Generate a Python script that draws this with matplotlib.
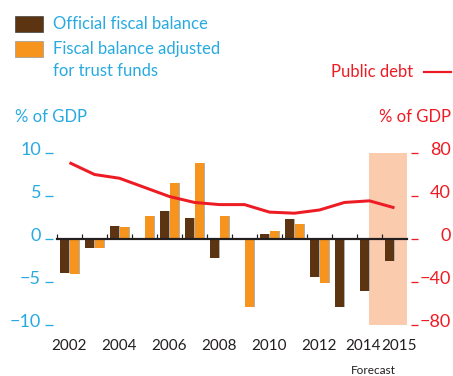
import matplotlib.pyplot as plt
import matplotlib.transforms as mtransforms
from matplotlib.patches import Rectangle
from matplotlib.lines import Line2D
import numpy as np

plt.rcParams['font.family'] = ['Lato', 'DejaVu Sans']

# Daten
years = [2002, 2003, 2004, 2005, 2006, 2007, 2008, 2009, 2010, 2011, 2012, 2013, 2014, 2015]
official = [-3.9, -1.0, 1.5, 0.1, 3.2, 2.4, -2.2, -0.05, 0.6, 2.3, -4.4, -7.9, -6.0, -2.5]
adjusted = [-4.1, -1.0, 1.4, 2.7, 6.5, 8.8, 2.7, -7.9, 0.9, 1.7, -5.1, np.nan, np.nan, np.nan]
debt = [71, 60, 56.5, 48, 39.5, 34, 32, 32, 25, 24, 27, 34, 35.5, 29]
year_labels = ['2002', '2004', '2006', '2008', '2010', '2012', '2014', '2015']
left_ticks = [-10, -5, 0, 5, 10]
right_ticks = [-80, -40, 0, 40, 80]

brown = '#5C3412'
orange = '#F7941D'
blue = '#27AAE1'
red = '#ED1C24'
shade = '#FBCBAE'
dark = '#231F20'

W, H = 453, 376
fig = plt.figure(figsize=(W / 100, H / 100), dpi=100)
px = 72 / 100  # Pixel -> Punkt

ax = fig.add_axes([57 / W, (H - 325) / H, 350 / W, 172 / H])
ax2 = ax.twinx()

x = np.arange(len(years))

# Prognosebereich
ax.axvspan(11.98, 13.98, color=shade, lw=0, zorder=0)

# Balken mit leichtem Schatten
bw = 0.36
ax.bar(x - 0.2 + 0.05, official, bw, color='#b0b0b0', lw=0, zorder=1)
ax.bar(x + 0.2 + 0.05, adjusted, bw, color='#b0b0b0', lw=0, zorder=1)
ax.bar(x - 0.2, official, bw, color=brown, lw=0, zorder=2)
ax.bar(x + 0.2, adjusted, bw, color=orange, lw=0, zorder=2)

ax.set_xlim(-0.5, 13.5)
ax.set_ylim(-10, 10)
ax2.set_ylim(-80, 80)

# Staatsschulden
ax2.plot(x, debt, color=red, lw=3 * px, solid_capstyle='butt', zorder=3)

# x-Achse bei Null
for s in ['top', 'right', 'left']:
    ax.spines[s].set_visible(False)
for s in ['top', 'bottom', 'left', 'right']:
    ax2.spines[s].set_visible(False)
ax.spines['bottom'].set_position(('data', 0))
ax.spines['bottom'].set_linewidth(2.2 * px)
ax.spines['bottom'].set_color(dark)
ax.spines['bottom'].set_zorder(4)
ax.set_xticks(np.arange(-0.5, 13.5, 1))
ax.set_xticklabels([])
ax.tick_params(axis='x', which='major', direction='in', length=5 * px, width=1.2 * px, color=dark)
label_pos = [0, 2, 4, 6, 8, 10, 11.75, 13.18]
ax.set_xticks(label_pos, minor=True)
ax.set_xticklabels(year_labels, minor=True)
ax.tick_params(axis='x', which='minor', length=0, pad=100 * px, labelsize=11, labelcolor=dark)

shift = mtransforms.ScaledTranslation(0, -2 / 100, fig.dpi_scale_trans)

# linke Achse
ax.spines['left'].set_position(('outward', 4 * px))
ax.set_yticks(left_ticks)
ax.set_yticklabels(['\u221210', '\u22125', '0', '5', '10'])
ax.tick_params(axis='y', length=8 * px, width=1.3 * px, color=blue, labelcolor=blue,
               labelsize=13, pad=4 * px)
for t in ax.get_yticklabels():
    t.set_verticalalignment('baseline')
    t.set_transform(t.get_transform() + shift)

# rechte Achse
ax2.spines['right'].set_position(('outward', 4 * px))
ax2.set_yticks(right_ticks)
ax2.set_yticklabels(['\u221280', '\u221240', '0', '40', '80'])
ax2.tick_params(axis='y', length=7 * px, width=1.3 * px, color=red, labelcolor=red,
                labelsize=13, pad=33 * px)
for t in ax2.get_yticklabels():
    t.set_horizontalalignment('right')
    t.set_verticalalignment('baseline')
    t.set_transform(t.get_transform() + shift)

# Legende
fig.patches.append(Rectangle((15 / W, 1 - 32 / H), 28 / W, 16 / H, transform=fig.transFigure,
                             facecolor=brown, edgecolor='#444444', lw=0.5))
fig.patches.append(Rectangle((15 / W, 1 - 57 / H), 28 / W, 16 / H, transform=fig.transFigure,
                             facecolor=orange, edgecolor='#999999', lw=0.5))
fig.text(53 / W, 1 - 24 / H, 'Official fiscal balance', color=blue, fontsize=12, va='center')
fig.text(53 / W, 1 - 49 / H, 'Fiscal balance adjusted', color=blue, fontsize=12, va='center')
fig.text(53 / W, 1 - 71 / H, 'for trust funds', color=blue, fontsize=12, va='center')
fig.text(413 / W, 1 - 72 / H, 'Public debt', color=red, fontsize=12, va='center', ha='right')
fig.lines.append(Line2D([424 / W, 451 / W], [1 - 72 / H, 1 - 72 / H], transform=fig.transFigure,
                        color=red, lw=2.2 * px))
fig.text(15 / W, 1 - 117 / H, '% of GDP', color=blue, fontsize=12, va='center')
fig.text(451 / W, 1 - 117 / H, '% of GDP', color=red, fontsize=12, va='center', ha='right')
fig.text(373 / W, 1 - 370 / H, 'Forecast', color=dark, fontsize=8.5, va='center', ha='center')

fig.savefig('out.png', dpi=100)
